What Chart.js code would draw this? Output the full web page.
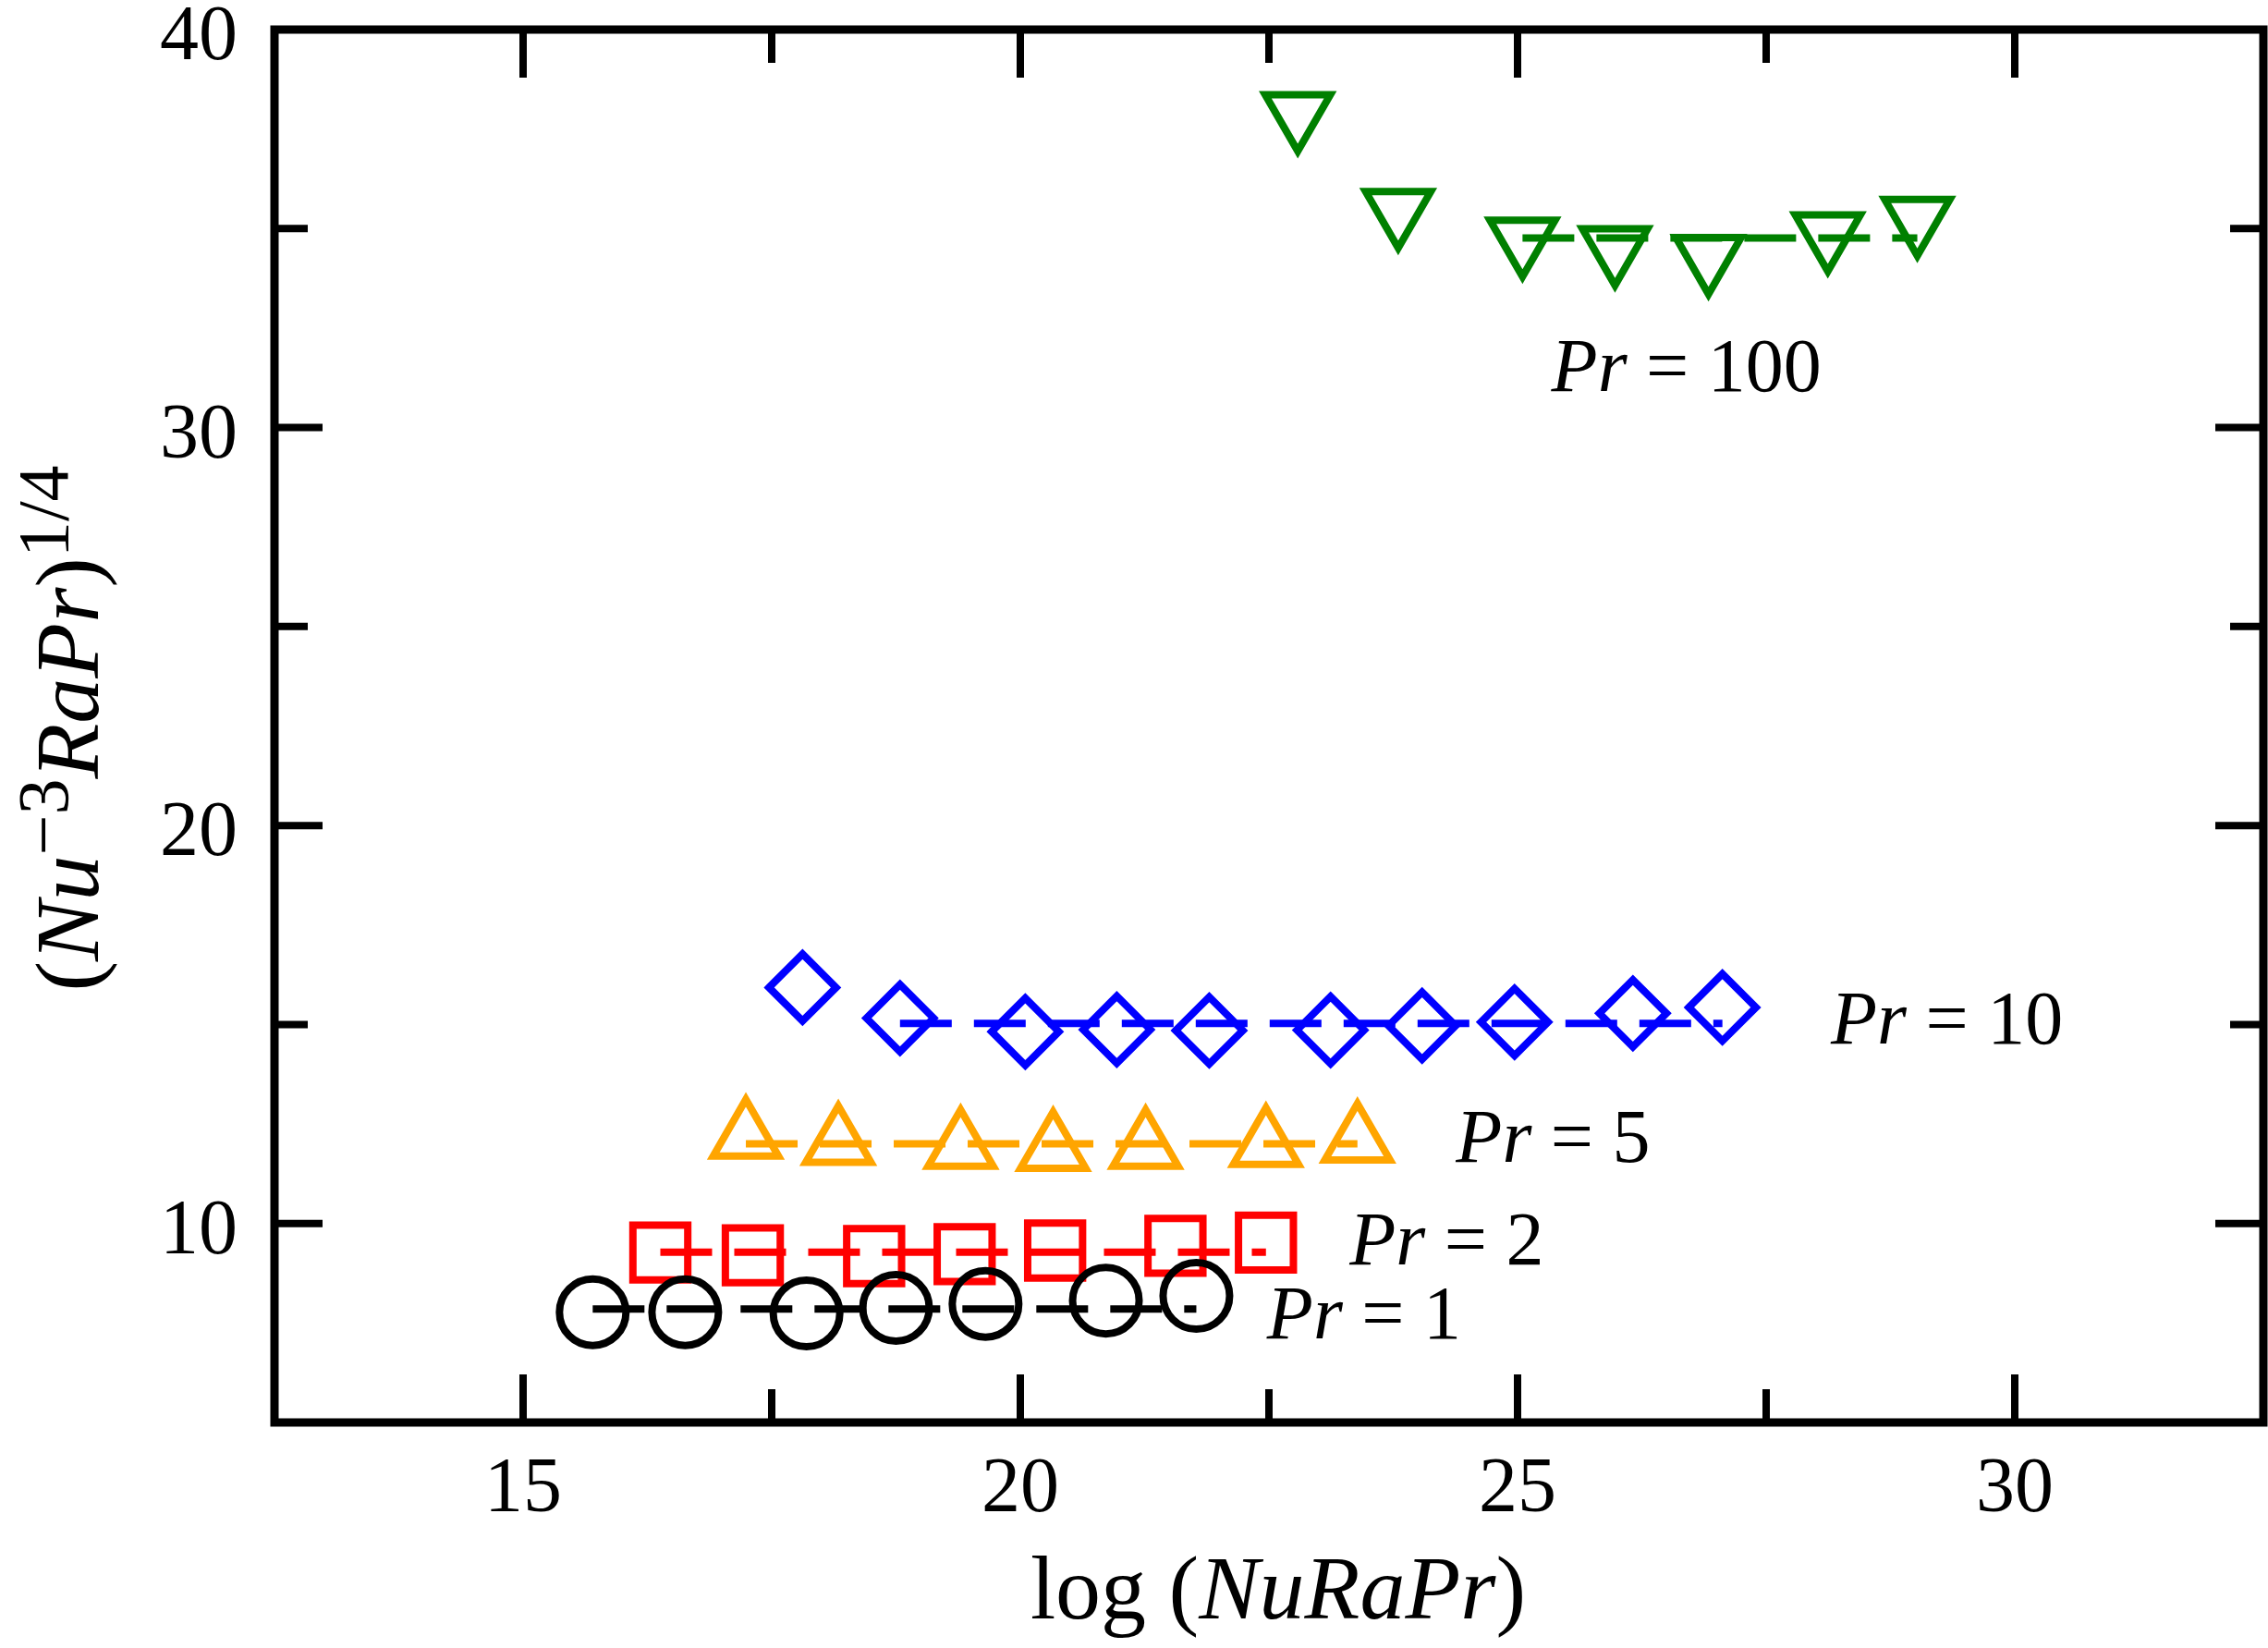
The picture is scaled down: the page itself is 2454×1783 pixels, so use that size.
<!DOCTYPE html>
<html>
<head>
<meta charset="utf-8">
<script src="https://cdn.jsdelivr.net/npm/chart.js@4.4.1/dist/chart.umd.min.js"></script>
<style>
  html, body { margin: 0; padding: 0; background: #fff; }
  #plot { display: block; }
</style>
</head>
<body>
<canvas id="plot" width="2454" height="1783"></canvas>
<script>
// ===== DATA =====
const xMajor = [15, 20, 25, 30]
const xMinor = [17.5, 22.5, 27.5]
const yMajor = [10, 20, 30, 40]
const yMinor = [15, 25, 35]

const pr1X   = [15.70, 16.63, 17.85, 18.75, 19.65, 20.86, 21.77]
const pr1Y   = [7.77, 7.77, 7.74, 7.88, 7.98, 8.06, 8.18]
const pr2X   = [16.38, 17.31, 18.53, 19.44, 20.35, 21.56, 22.47]
const pr2Y   = [9.27, 9.20, 9.18, 9.23, 9.32, 9.44, 9.52]
const pr5X   = [17.24, 18.17, 19.40, 20.33, 21.26, 22.47, 23.39]
const pr5Y   = [12.17, 12.01, 11.91, 11.86, 11.91, 11.96, 12.07]
const pr10X  = [17.81, 18.79, 20.05, 20.97, 21.90, 23.12, 24.04, 24.97, 26.16, 27.06]
const pr10Y  = [15.93, 15.16, 14.82, 14.87, 14.85, 14.86, 14.97, 15.06, 15.28, 15.43]
const pr100X = [22.79, 23.80, 25.05, 25.98, 26.92, 28.12, 29.02]
const pr100Y = [37.89, 35.46, 34.74, 34.52, 34.30, 34.87, 35.26]

// dashed mean levels, one per Pr
const fitStart = [15.70, 16.38, 17.24, 18.79, 25.05]
const fitEnd   = [21.77, 22.47, 23.39, 27.06, 29.02]
const fitLevel = [7.85, 9.28, 12.00, 15.03, 34.76]

// in-plot labels
const prNames = ["1", "2", "5", "10", "100"]
const labelX  = [22.48, 23.31, 24.38, 28.15, 25.34]
const labelY  = [7.11, 8.97, 11.55, 14.52, 30.92]

// ===== STYLE =====
const SERIF   = '"Liberation Serif", "Times New Roman", serif'
const colors  = ["#000000", "#ff0000", "#ffa500", "#0000ff", "#008000"]
const markers = [
  { style: "circle",   radius: 36,   rotation: 0 },
  { style: "rect",     radius: 42,   rotation: 0 },
  { style: "triangle", radius: 40.7, rotation: 0 },
  { style: "rectRot",  radius: 36.3, rotation: 0 },
  { style: "triangle", radius: 40.7, rotation: 180 }
]

const seriesX = [pr1X, pr2X, pr5X, pr10X, pr100X]
const seriesY = [pr1Y, pr2Y, pr5Y, pr10Y, pr100Y]

const datasets = []
seriesX.forEach((xs, i) => {
  datasets.push({
    label: "Pr = " + prNames[i],
    data: xs.map((x, j) => ({ x, y: seriesY[i][j] })),
    showLine: false,
    pointStyle: markers[i].style,
    pointRadius: markers[i].radius,
    pointRotation: markers[i].rotation,
    pointBorderWidth: 8,
    pointBorderColor: colors[i],
    pointBackgroundColor: "rgba(0,0,0,0)",
    pointHoverRadius: markers[i].radius
  })
  datasets.push({
    label: "mean Pr = " + prNames[i],
    data: [{ x: fitStart[i], y: fitLevel[i] }, { x: fitEnd[i], y: fitLevel[i] }],
    showLine: true,
    borderColor: colors[i],
    borderWidth: 8,
    borderDash: [56, 24],
    pointRadius: 0,
    pointHoverRadius: 0
  })
})

// ===== TEXT RUNS =====
function runFont(r, size) {
  const s = r.sup ? Math.round(size * 0.8) : size
  return (r.italic ? "italic " : "") + s + "px " + SERIF
}

function drawRuns(ctx, runs, x, y, size, align) {
  let total = 0
  runs.forEach(r => { ctx.font = runFont(r, size); total += ctx.measureText(r.t).width })
  let cx = align === "center" ? x - total / 2 : x
  ctx.textAlign = "left"
  ctx.textBaseline = "alphabetic"
  runs.forEach(r => {
    ctx.font = runFont(r, size)
    ctx.fillText(r.t, cx, r.sup ? y - size * 0.34 : y)
    cx += ctx.measureText(r.t).width
  })
}

// ===== FRAME, TICKS, TITLES =====
const framePlugin = {
  id: "frame",
  afterDraw(chart) {
    const { ctx, chartArea: a, scales: { x, y } } = chart
    ctx.save()
    ctx.strokeStyle = "#000"
    ctx.fillStyle = "#000"
    ctx.lineJoin = "miter"
    ctx.lineWidth = 9
    ctx.strokeRect(a.left, a.top, a.right - a.left, a.bottom - a.top)

    ctx.lineWidth = 8
    ctx.lineCap = "butt"
    ctx.beginPath()
    const xTicks = (vals, len) => vals.forEach(v => {
      const px = x.getPixelForValue(v)
      ctx.moveTo(px, a.bottom); ctx.lineTo(px, a.bottom - len)
      ctx.moveTo(px, a.top);    ctx.lineTo(px, a.top + len)
    })
    const yTicks = (vals, len) => vals.forEach(v => {
      const py = y.getPixelForValue(v)
      ctx.moveTo(a.left, py);  ctx.lineTo(a.left + len, py)
      ctx.moveTo(a.right, py); ctx.lineTo(a.right - len, py)
    })
    xTicks(xMajor, 52); xTicks(xMinor, 36)
    yTicks(yMajor.filter(v => v < 40), 52); yTicks(yMinor, 36)
    ctx.stroke()

    // in-plot labels
    prNames.forEach((name, i) => {
      drawRuns(ctx, [{ t: "Pr", italic: true }, { t: " = " + name }],
        x.getPixelForValue(labelX[i]), y.getPixelForValue(labelY[i]), 82, "left")
    })

    // x title
    drawRuns(ctx, [{ t: "log (" }, { t: "NuRaPr", italic: true }, { t: ")" }],
      (a.left + a.right) / 2 + 10, 1751, 98, "center")

    // y title
    ctx.save()
    ctx.translate(106, 788)
    ctx.rotate(-Math.PI / 2)
    drawRuns(ctx, [
      { t: "(" }, { t: "Nu", italic: true }, { t: "\u22123", sup: true },
      { t: "RaPr", italic: true }, { t: ")" }, { t: "1/4", sup: true }
    ], 0, 0, 98, "center")
    ctx.restore()

    ctx.restore()
  }
}

// ===== CHART =====
function init() {
  const ctx = document.getElementById("plot").getContext("2d")
  new Chart(ctx, {
    type: "scatter",
    data: { datasets },
    options: {
      responsive: false,
      devicePixelRatio: 1,
      animation: false,
      events: [],
      layout: { autoPadding: false, padding: { top: 32, right: 5, left: 0, bottom: 0 } },
      plugins: { legend: { display: false }, tooltip: { enabled: false } },
      scales: {
        x: {
          type: "linear",
          min: 12.5,
          max: 32.5,
          afterBuildTicks: s => { s.ticks = xMajor.map(v => ({ value: v })) },
          afterFit: s => { s.height = 244; s.paddingLeft = 0; s.paddingRight = 0 },
          grid: { display: false },
          border: { display: false },
          ticks: {
            color: "#000",
            font: { family: SERIF, size: 84 },
            padding: 16,
            maxRotation: 0,
            autoSkip: false
          }
        },
        y: {
          type: "linear",
          min: 5,
          max: 40,
          afterBuildTicks: s => { s.ticks = yMajor.map(v => ({ value: v })) },
          afterFit: s => { s.width = 297; s.paddingTop = 0; s.paddingBottom = 0 },
          grid: { display: false },
          border: { display: false },
          ticks: {
            color: "#000",
            font: { family: SERIF, size: 84 },
            padding: 32,
            labelOffset: 10,
            autoSkip: false
          }
        }
      }
    },
    plugins: [framePlugin]
  })
}

Promise.all([
  document.fonts.load('82px "Liberation Serif"'),
  document.fonts.load('italic 82px "Liberation Serif"')
]).then(init, init)
</script>
</body>
</html>
